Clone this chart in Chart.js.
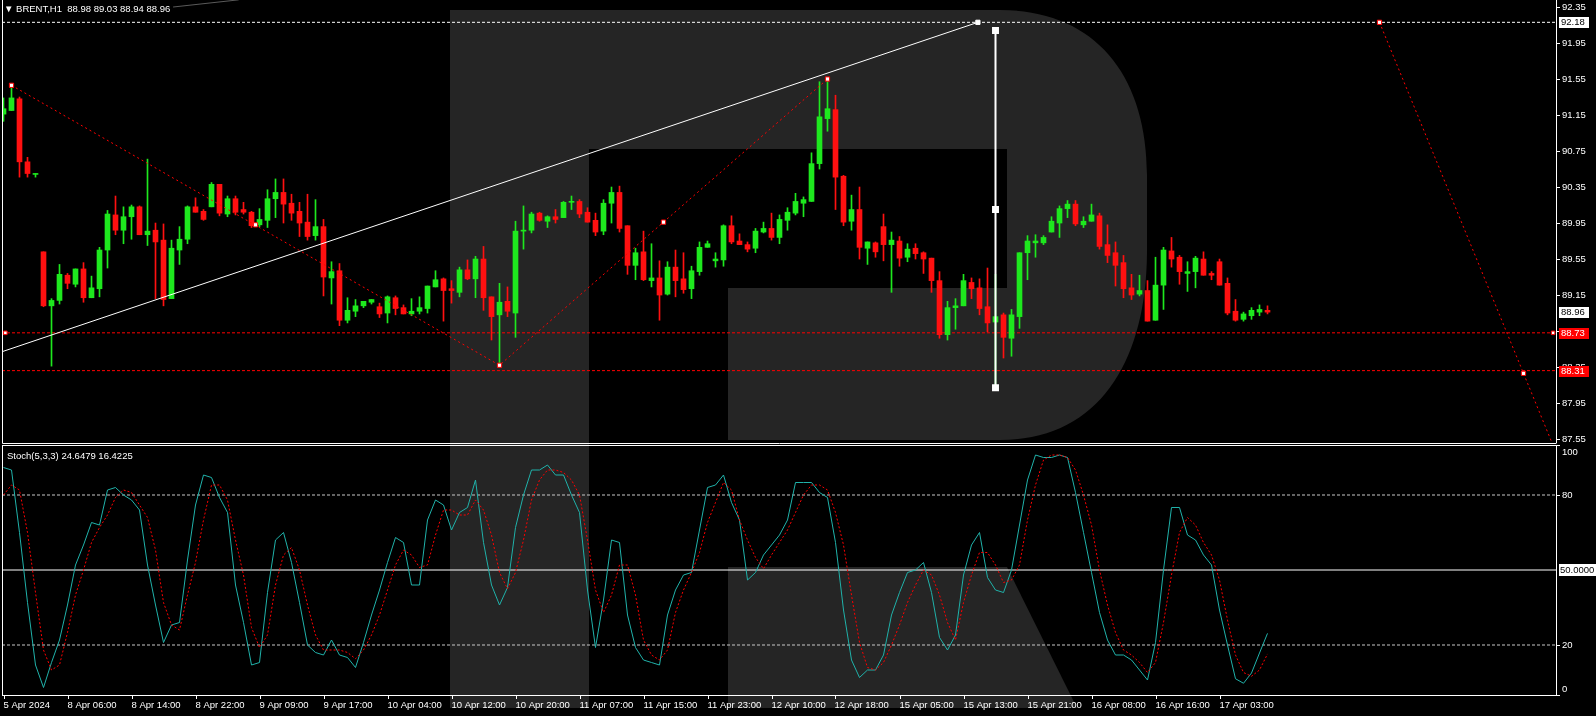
<!DOCTYPE html>
<html>
<head>
<meta charset="utf-8">
<title>BRENT H1</title>
<script src="https://cdn.jsdelivr.net/npm/chart.js@4.4.1/dist/chart.umd.min.js"></script>
<style>
  html, body { margin: 0; padding: 0; background: #000; }
  #wrap { position: relative; width: 1596px; height: 716px; overflow: hidden; background: #000;
          font-family: "Liberation Sans", "DejaVu Sans", sans-serif; }
  #logo { position: absolute; left: 0; top: 0; }
  canvas { position: absolute; left: 0; }
  #mainChart { top: 0; }
  #stochChart { top: 445px; }
  .caption { position: absolute; color: #fff; font-size: 9.5px; white-space: pre; line-height: 11px; }
</style>
</head>
<body>
<div id="wrap">
  <!-- watermark behind the charts -->
  <svg id="logo" width="1596" height="716">
    <path d="M450,10 H1000 C1095,10 1147,75 1147,175 V250 C1147,360 1100,440 1000,440 H728 V288 H1007 V149 H589 V708 H450 Z" fill="#252525"/>
    <path d="M728,567 H1007 L1077,708 H728 Z" fill="#252525"/>
  </svg>
  <canvas id="mainChart" width="1596" height="444"></canvas>
  <canvas id="stochChart" width="1596" height="271"></canvas>
  <div class="caption" style="left:4px;top:3px">▼ BRENT,H1  88.98 89.03 88.94 88.96</div>
  <div class="caption" style="left:7px;top:450px">Stoch(5,3,3) 24.6479 16.4225</div>
</div>
<script>
// H1 candles, one per bar index
const opens = [
  91.16, 91.20, 91.33, 90.63, 90.49, 89.63, 89.03, 89.09, 89.37, 89.27,
  89.44, 89.12, 89.22, 89.65, 90.04, 89.87, 90.02, 90.13, 89.82, 89.87,
  89.76, 89.11, 89.65, 89.77, 90.13, 90.08, 90.13, 90.38, 90.05, 90.22,
  90.10, 90.07, 89.93, 89.98, 90.22, 90.29, 90.17, 90.08, 89.96, 89.81,
  89.91, 89.34, 89.42, 88.87, 88.97, 89.03, 89.07, 89.02, 88.95, 89.12,
  89.01, 88.94, 88.97, 89.00, 89.24, 89.33, 89.22, 89.18, 89.43, 89.33,
  89.55, 89.13, 88.93, 89.08, 88.95, 89.86, 89.87, 90.06, 89.97, 90.02,
  90.01, 90.18, 90.19, 90.07, 89.98, 89.86, 90.17, 90.29, 89.92, 89.48,
  89.63, 89.31, 89.34, 89.16, 89.46, 89.33, 89.22, 89.41, 89.68, 89.53,
  89.54, 89.92, 89.75, 89.71, 89.67, 89.85, 89.89, 89.79, 89.98, 90.06,
  90.17, 90.19, 90.61, 91.11, 91.21, 90.47, 89.97, 90.10, 89.67, 89.73,
  89.91, 89.71, 89.75, 89.57, 89.67, 89.62, 89.56, 89.31, 88.71, 89.01,
  89.03, 89.29, 89.23, 89.02, 88.85, 88.93, 88.67, 88.91, 89.62, 89.73,
  89.73, 89.85, 89.95, 90.11, 90.16, 89.93, 89.97, 90.03, 89.71, 89.62,
  89.51, 89.23, 89.16, 89.20, 88.87, 89.26, 89.64, 89.57, 89.39, 89.41,
  89.55, 89.39, 89.52, 89.28, 88.97, 88.88, 88.92, 88.96, 88.98
];
const highs = [
  91.34, 91.48, 91.35, 90.68, 90.50, 89.63, 89.11, 89.49, 89.39, 89.44,
  89.51, 89.36, 89.68, 90.09, 90.25, 90.13, 90.15, 90.14, 90.66, 89.95,
  89.94, 89.76, 89.91, 90.14, 90.23, 90.10, 90.40, 90.38, 90.25, 90.25,
  90.18, 90.08, 90.11, 90.32, 90.44, 90.44, 90.27, 90.18, 90.27, 90.21,
  89.99, 89.52, 89.50, 89.12, 89.10, 89.08, 89.10, 89.06, 89.14, 89.14,
  89.04, 89.11, 89.13, 89.25, 89.42, 89.34, 89.31, 89.46, 89.54, 89.58,
  89.69, 89.13, 89.28, 89.24, 89.97, 90.14, 90.07, 90.07, 90.03, 90.10,
  90.19, 90.25, 90.21, 90.12, 90.06, 90.21, 90.35, 90.36, 89.92, 89.67,
  89.86, 89.72, 89.53, 89.52, 89.65, 89.62, 89.47, 89.74, 89.75, 89.62,
  89.93, 90.03, 89.83, 89.74, 89.89, 89.96, 90.06, 90.04, 90.12, 90.28,
  90.24, 90.73, 91.52, 91.55, 91.37, 90.48, 90.26, 90.35, 89.74, 89.74,
  90.05, 89.85, 89.80, 89.72, 89.72, 89.63, 89.56, 89.41, 89.08, 89.11,
  89.38, 89.34, 89.33, 89.45, 89.38, 88.95, 88.99, 89.62, 89.81, 89.82,
  89.81, 90.02, 90.14, 90.20, 90.20, 90.02, 90.16, 90.06, 89.93, 89.74,
  89.59, 89.38, 89.37, 89.31, 89.57, 89.68, 89.79, 89.59, 89.52, 89.58,
  89.63, 89.41, 89.55, 89.34, 89.10, 88.96, 89.01, 89.04, 89.03
];
const lows = [
  91.08, 91.20, 90.46, 90.46, 90.46, 89.02, 88.36, 89.05, 89.22, 89.24,
  89.07, 89.12, 89.13, 89.45, 89.82, 89.72, 89.77, 89.82, 89.70, 89.11,
  89.03, 89.11, 89.49, 89.72, 90.07, 89.98, 90.13, 90.03, 90.02, 90.04,
  90.05, 89.90, 89.91, 89.90, 90.01, 89.95, 89.98, 89.80, 89.76, 89.76,
  89.14, 89.05, 88.81, 88.84, 88.91, 89.01, 89.05, 88.90, 88.84, 88.93,
  88.94, 88.92, 88.94, 88.95, 89.24, 88.86, 89.06, 89.13, 89.32, 89.12,
  88.98, 88.65, 88.37, 88.91, 88.68, 89.66, 89.84, 89.97, 89.90, 89.95,
  90.01, 90.10, 90.01, 89.96, 89.81, 89.82, 89.95, 89.85, 89.38, 89.32,
  89.31, 89.24, 88.87, 89.15, 89.13, 89.17, 89.11, 89.37, 89.68, 89.46,
  89.47, 89.72, 89.71, 89.63, 89.62, 89.84, 89.76, 89.72, 89.87, 90.04,
  90.02, 90.19, 90.55, 90.97, 90.10, 89.92, 89.87, 89.55, 89.49, 89.57,
  89.53, 89.18, 89.47, 89.52, 89.55, 89.39, 89.18, 88.67, 88.65, 88.77,
  89.03, 89.11, 88.93, 88.74, 88.15, 88.45, 88.47, 88.78, 89.32, 89.57,
  89.71, 89.85, 89.79, 90.01, 89.92, 89.90, 89.97, 89.66, 89.51, 89.25,
  89.12, 89.10, 89.14, 88.86, 88.87, 88.99, 89.46, 89.27, 89.19, 89.23,
  89.37, 89.32, 89.26, 88.93, 88.86, 88.86, 88.88, 88.92, 88.94
];
const closes = [
  91.22, 91.34, 90.63, 90.50, 90.50, 89.03, 89.09, 89.38, 89.28, 89.44,
  89.12, 89.23, 89.65, 90.05, 89.87, 90.02, 90.13, 89.82, 89.86, 89.74,
  89.10, 89.67, 89.77, 90.13, 90.07, 89.99, 90.38, 90.06, 90.22, 90.07,
  90.07, 89.92, 89.99, 90.22, 90.29, 90.16, 90.06, 89.95, 89.80, 89.91,
  89.35, 89.41, 88.87, 88.98, 89.03, 89.08, 89.10, 88.94, 89.13, 89.00,
  88.94, 88.97, 89.01, 89.25, 89.32, 89.20, 89.20, 89.43, 89.33, 89.55,
  89.12, 88.91, 89.07, 88.97, 89.86, 89.87, 90.05, 89.98, 90.02, 89.99,
  90.18, 90.19, 90.05, 89.96, 89.85, 90.17, 90.29, 89.89, 89.48, 89.62,
  89.32, 89.34, 89.15, 89.46, 89.31, 89.21, 89.42, 89.68, 89.72, 89.55,
  89.92, 89.74, 89.71, 89.66, 89.86, 89.89, 89.79, 89.99, 90.07, 90.19,
  90.21, 90.61, 91.13, 91.22, 90.46, 89.96, 90.10, 89.68, 89.74, 89.63,
  89.71, 89.76, 89.56, 89.66, 89.61, 89.55, 89.31, 88.71, 89.01, 89.03,
  89.31, 89.22, 89.00, 88.84, 88.91, 88.68, 88.93, 89.62, 89.75, 89.75,
  89.79, 89.97, 90.11, 90.16, 89.94, 89.97, 90.04, 89.69, 89.59, 89.48,
  89.22, 89.15, 89.20, 88.86, 89.26, 89.65, 89.55, 89.41, 89.41, 89.56,
  89.37, 89.37, 89.26, 88.95, 88.87, 88.94, 88.98, 88.99, 88.96
];

// Stochastic(5,3,3): main line and signal line
const stochK = [
  91, 90, 65, 37, 12, 3, 13, 22, 36, 52,
  60, 69, 68, 82, 83, 80, 78, 74, 52, 36,
  21, 28, 29, 54, 76, 88, 87, 79, 73, 44,
  29, 12, 13, 41, 62, 65, 53, 37, 20, 17,
  16, 22, 16, 15, 11, 21, 32, 42, 53, 63,
  61, 44, 44, 70, 78, 76, 66, 73, 75, 86,
  61, 44, 36, 43, 67, 80, 90, 90, 92, 88,
  88, 80, 73, 42, 19, 38, 62, 61, 32, 19,
  14, 13, 12, 32, 42, 48, 49, 66, 83, 84,
  88, 77, 70, 46, 49, 56, 60, 64, 70, 85,
  85, 85, 81, 79, 61, 34, 14, 7, 10, 10,
  16, 32, 41, 49, 50, 53, 41, 23, 18, 24,
  48, 60, 65, 47, 42, 41, 50, 68, 86, 96,
  95, 95, 96, 95, 81, 65, 49, 33, 22, 16,
  16, 14, 10, 6, 21, 50, 75, 75, 64, 62,
  56, 52, 34, 20, 6.5, 4.7, 8.8, 16.8, 24.65
];
const stochD = [
  80, 84, 82, 65, 41, 18, 10, 12, 25, 40,
  50, 61, 67, 72, 79, 82, 81, 76, 71, 58,
  37, 28, 26, 40, 53, 70, 84, 84, 78, 62,
  48, 27, 19, 24, 44, 56, 59, 50, 36, 24,
  18, 18, 18, 17, 14.5, 18, 24, 32, 42, 52,
  58, 56, 51, 52, 64, 74, 74, 72, 72, 78,
  74, 64, 49, 42.5, 49, 62, 78, 86, 90, 90,
  89, 86, 80, 62, 42, 33, 40, 52, 52, 40,
  22, 16, 14, 18, 33, 42, 49, 57, 69, 77,
  85, 82, 70, 62, 55, 50.5, 56, 61, 66, 73,
  80, 84, 84, 82, 73, 60, 40, 21, 11, 10,
  13, 20, 28, 37, 44, 50, 48, 40, 29, 22,
  37, 48, 57, 57, 52, 45, 46, 52, 70, 84,
  94, 96, 96, 95, 90, 80, 68, 50, 36, 25,
  18, 16, 13, 9, 13, 29, 48, 65, 71, 68,
  61, 56, 46, 30, 16, 9, 7.5, 10, 16.42
];

// axes
const priceTicks = [92.35, 91.95, 91.55, 91.15, 90.75, 90.35, 89.95, 89.55, 89.15, 88.75, 88.35, 87.95, 87.55];
const stochTicks = [100, 80, 20, 0];
const timeTickBars = [0, 8, 16, 24, 32, 40, 48, 56, 64, 72, 80, 88, 96, 104, 112, 120, 128, 136, 144, 152];
const timeLabels = ['5 Apr 2024', '8 Apr 06:00', '8 Apr 14:00', '8 Apr 22:00', '9 Apr 09:00', '9 Apr 17:00',
  '10 Apr 04:00', '10 Apr 12:00', '10 Apr 20:00', '11 Apr 07:00', '11 Apr 15:00', '11 Apr 23:00',
  '12 Apr 10:00', '12 Apr 18:00', '15 Apr 05:00', '15 Apr 13:00', '15 Apr 21:00', '16 Apr 08:00',
  '16 Apr 16:00', '17 Apr 03:00'];

// price tags on the right scale
const tagValues = [92.18, 88.96, 88.73, 88.31];
const tagFills = ['#ffffff', '#ffffff', '#ff0000', '#ff0000'];
const tagInk = ['#000000', '#000000', '#ffffff', '#ffffff'];

// chart objects: [bar, price]
const trendLine = [[-0.19, 88.52], [121.8, 92.18]];
const faintLine = [[21.2, 92.35], [29.4, 92.43]];
const zigzag = [[1, 91.48], [62, 88.37], [103, 91.55]];
const zigzagMarks = [[1, 91.48], [31.5, 89.93], [62, 88.37], [82.5, 89.96], [103, 91.55]];
const projection = [[172, 92.18], [193.6, 87.50]];
const projectionMarks = [[172, 92.18], [190, 88.28]];
const rangeLine = [[124, 92.09], [124, 90.10], [124, 88.12]];

const xMin = -0.1875, xMax = 194.0625;
const yMin = 87.506, yMax = 92.428;

const UP = '#1ee81e', DOWN = '#ff1010';
const FONT = '9.5px "Liberation Sans", "DejaVu Sans", sans-serif';

const pts = arr => arr.map(([x, y]) => ({ x, y }));
const hline = v => [{ x: xMin, y: v }, { x: xMax, y: v }];
const candleColors = opens.map((o, i) => closes[i] >= o ? UP : DOWN);

// frame, price scale and tags of the upper panel
const mainFrame = {
  id: 'mainFrame',
  afterDraw(chart) {
    const { ctx, chartArea: a, scales: { y } } = chart;
    ctx.save();
    ctx.strokeStyle = '#fff';
    ctx.lineWidth = 1;
    ctx.beginPath();
    ctx.moveTo(a.left + 0.5, 0); ctx.lineTo(a.left + 0.5, a.bottom + 0.5);
    ctx.lineTo(a.right + 0.5, a.bottom + 0.5);
    ctx.moveTo(a.right + 0.5, 0); ctx.lineTo(a.right + 0.5, a.bottom);
    ctx.stroke();

    ctx.font = FONT;
    ctx.textBaseline = 'middle';
    ctx.fillStyle = '#fff';
    priceTicks.forEach(v => {
      const py = Math.round(y.getPixelForValue(v)) + 0.5;
      ctx.beginPath(); ctx.moveTo(a.right, py); ctx.lineTo(a.right + 4, py); ctx.stroke();
      ctx.fillText(v.toFixed(2), a.right + 6, py);
    });

    tagValues.forEach((v, i) => {
      const py = Math.round(y.getPixelForValue(v));
      ctx.fillStyle = tagFills[i];
      ctx.fillRect(a.right + 3, py - 5, 30, 11);
      ctx.fillStyle = tagInk[i];
      ctx.fillText(v.toFixed(2), a.right + 5, py + 0.5);
    });
    ctx.restore();
  }
};

// frame, level scale and time scale of the stochastic panel
const stochFrame = {
  id: 'stochFrame',
  afterDraw(chart) {
    const { ctx, chartArea: a, scales: { x, y } } = chart;
    ctx.save();
    ctx.strokeStyle = '#fff';
    ctx.lineWidth = 1;
    ctx.strokeRect(a.left + 0.5, a.top + 0.5, a.right - a.left, a.bottom - a.top);

    ctx.font = FONT;
    ctx.fillStyle = '#fff';
    stochTicks.forEach(v => {
      const py = Math.round(y.getPixelForValue(v)) + 0.5;
      ctx.beginPath(); ctx.moveTo(a.right, py); ctx.lineTo(a.right + 4, py); ctx.stroke();
      ctx.textBaseline = v === 100 ? 'top' : (v === 0 ? 'bottom' : 'middle');
      const off = v === 100 ? 2 : (v === 0 ? -1 : 0);
      ctx.fillText(String(v), a.right + 6, py + off);
    });
    const p50 = Math.round(y.getPixelForValue(50));
    ctx.fillRect(a.right + 3, p50 - 6, 40, 12);
    ctx.fillStyle = '#000';
    ctx.textBaseline = 'middle';
    ctx.fillText('50.0000', a.right + 4, p50 + 0.5);

    ctx.fillStyle = '#fff';
    timeTickBars.forEach((b, i) => {
      const px = Math.round(x.getPixelForValue(b)) + 0.5;
      ctx.beginPath(); ctx.moveTo(px, a.bottom); ctx.lineTo(px, a.bottom + 4); ctx.stroke();
      ctx.fillText(timeLabels[i], px - 1, a.bottom + 10.5);
    });
    ctx.restore();
  }
};

new Chart(document.getElementById('mainChart'), {
  type: 'bar',
  data: {
    datasets: [
      // objects drawn on top
      { type: 'line', data: pts(trendLine), borderColor: '#fff', borderWidth: 1, pointRadius: 0, order: 1 },
      { type: 'line', data: pts(faintLine), borderColor: '#5a5a5a', borderWidth: 1, pointRadius: 0, order: 1 },
      { type: 'line', data: pts(trendLine.slice(1)), borderColor: '#fff', backgroundColor: '#fff',
        pointStyle: 'rect', pointRadius: 3, showLine: false, order: 0 },
      { type: 'line', data: pts(zigzag), borderColor: '#ff0000', borderWidth: 1, borderDash: [2, 3],
        pointRadius: 0, order: 1 },
      { type: 'line', data: pts(zigzagMarks), borderColor: '#ff0000', backgroundColor: '#fff', borderWidth: 1,
        pointStyle: 'rect', pointRadius: 3, showLine: false, order: 0 },
      { type: 'line', data: pts(projection), borderColor: '#ff0000', borderWidth: 1, borderDash: [2, 3],
        pointRadius: 0, order: 1 },
      { type: 'line', data: pts(projectionMarks), borderColor: '#ff0000', backgroundColor: '#fff', borderWidth: 1,
        pointStyle: 'rect', pointRadius: 3, showLine: false, order: 0 },
      { type: 'line', data: pts(rangeLine), borderColor: '#fff', backgroundColor: '#fff', borderWidth: 2,
        pointStyle: 'rect', pointRadius: 3.5, order: 0 },
      // horizontal levels
      { type: 'line', data: hline(92.18), borderColor: '#fff', borderWidth: 1, borderDash: [3, 2], pointRadius: 0, order: 6 },
      { type: 'line', data: hline(88.73), borderColor: '#ff0000', borderWidth: 1, borderDash: [3, 2], pointRadius: 0, order: 6 },
      { type: 'line', data: hline(88.31), borderColor: '#ff0000', borderWidth: 1, borderDash: [3, 2], pointRadius: 0, order: 6 },
      { type: 'line', data: pts([[0.23, 88.73], [193.7, 88.73]]), borderColor: '#ff0000', backgroundColor: '#fff',
        borderWidth: 1, pointStyle: 'rect', pointRadius: 2.5, showLine: false, order: 0 },
      // candles: wicks then bodies
      { type: 'bar', data: lows.map((l, i) => ({ x: i, y: [l, highs[i]] })), backgroundColor: candleColors,
        barThickness: 1, maxBarThickness: 1, minBarLength: 1, grouped: false, order: 3 },
      { type: 'bar', data: opens.map((o, i) => ({ x: i, y: [o, closes[i]] })), backgroundColor: candleColors,
        barThickness: 5, maxBarThickness: 5, minBarLength: 1, grouped: false, order: 2 }
    ]
  },
  options: {
    responsive: false,
    animation: false,
    events: [],
    layout: { autoPadding: false, padding: { left: 2, right: 40, top: 0, bottom: 1 } },
    plugins: { legend: { display: false }, tooltip: { enabled: false } },
    scales: {
      x: { type: 'linear', min: xMin, max: xMax, offset: false, display: false },
      y: { type: 'linear', min: yMin, max: yMax, display: false }
    }
  },
  plugins: [mainFrame]
});

new Chart(document.getElementById('stochChart'), {
  type: 'line',
  data: {
    datasets: [
      { data: stochK.map((v, i) => ({ x: i, y: v })), borderColor: '#20b2aa', borderWidth: 1, pointRadius: 0, order: 1 },
      { data: stochD.map((v, i) => ({ x: i, y: v })), borderColor: '#ff0000', borderWidth: 1, borderDash: [2, 2],
        pointRadius: 0, order: 0 },
      { data: hline(80), borderColor: '#c8c8c8', borderWidth: 1, borderDash: [3, 2], pointRadius: 0, order: 5 },
      { data: hline(20), borderColor: '#c8c8c8', borderWidth: 1, borderDash: [3, 2], pointRadius: 0, order: 5 },
      { data: hline(50), borderColor: '#ffffff', borderWidth: 1, pointRadius: 0, order: 5 }
    ]
  },
  options: {
    responsive: false,
    animation: false,
    events: [],
    layout: { autoPadding: false, padding: { left: 2, right: 40, top: 0, bottom: 21 } },
    plugins: { legend: { display: false }, tooltip: { enabled: false } },
    scales: {
      x: { type: 'linear', min: xMin, max: xMax, display: false },
      y: { type: 'linear', min: 0, max: 100, display: false }
    }
  },
  plugins: [stochFrame]
});
</script>
</body>
</html>
